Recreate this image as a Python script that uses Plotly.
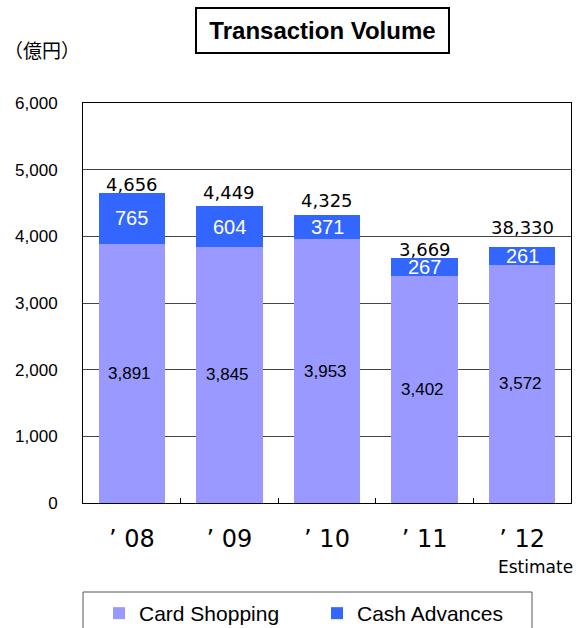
import plotly.graph_objects as go

years = ["'08", "'09", "'10", "'11", "'12"]
year_labels = ["’ 08", "’ 09", "’ 10", "’ 11", "’ 12"]
card_shopping = [3891, 3845, 3953, 3402, 3572]
cash_advances = [765, 604, 371, 267, 261]
total_labels = ["4,656", "4,449", "4,325", "3,669", "38,330"]
y_ticks = [0, 1000, 2000, 3000, 4000, 5000, 6000]

# label offsets (pixels) of the total labels above each bar, as drawn in the original
total_label_lift = [-4, 1, 2, -4, 7]

CARD = "#9999FF"
CASH = "#3366FF"
JP = "Noto Sans CJK JP"
LAT = "Liberation Sans"
DJ = "DejaVu Sans"

fig = go.Figure()
fig.add_trace(go.Bar(x=years, y=card_shopping, name="Card Shopping",
                     marker=dict(color=CARD, line=dict(width=0))))
fig.add_trace(go.Bar(x=years, y=cash_advances, name="Cash Advances",
                     marker=dict(color=CASH, line=dict(width=0))))

ann = []
for i, yr in enumerate(years):
    c = card_shopping[i]
    a = cash_advances[i]
    ann.append(dict(x=yr, y=c / 2, xref="x", yref="y", text=f"{c:,}",
                    showarrow=False, xshift=-2,
                    font=dict(family=LAT, size=17, color="black")))
    ann.append(dict(x=yr, y=c + a / 2, xref="x", yref="y", text=f"{a:,}",
                    showarrow=False,
                    font=dict(family=LAT, size=20, color="white")))
    ann.append(dict(x=yr, y=c + a, xref="x", yref="y", text=total_labels[i],
                    showarrow=False, yanchor="bottom", yshift=total_label_lift[i],
                    font=dict(family=DJ, size=18, color="black")))

ann.append(dict(x=0.4898, y=1.18125, xref="paper", yref="paper",
                xanchor="center", yanchor="middle",
                text="<b>Transaction Volume</b>", width=235, height=27,
                showarrow=False, font=dict(family=LAT, size=24, color="black"),
                bordercolor="black", borderwidth=2, borderpad=8, bgcolor="white"))
ann.append(dict(x=-0.083, y=1.1325, xref="paper", yref="paper", text="（億円）",
                xanchor="center", yanchor="middle",
                showarrow=False, font=dict(family=JP, size=19, color="black")))
ann.append(dict(x=1.0082, y=-0.16, xref="paper", yref="paper", text="Estimate",
                xanchor="right", yanchor="middle",
                showarrow=False, font=dict(family=DJ, size=17, color="black")))

fig.update_layout(
    barmode="stack",
    bargap=0.32,
    width=576, height=628,
    margin=dict(l=83, r=5, t=103, b=125, autoexpand=False),
    paper_bgcolor="white", plot_bgcolor="white",
    annotations=ann,
    shapes=[dict(type="rect", xref="paper", yref="paper", x0=0, x1=0.9201,
                 y0=-0.2225, y1=-0.345, line=dict(color="#555555", width=1),
                 fillcolor="rgba(0,0,0,0)", layer="above")],
    showlegend=True,
    legend=dict(orientation="h", x=0.0328, y=-0.225, xanchor="left", yanchor="top",
                borderwidth=0, bgcolor="rgba(0,0,0,0)", entrywidth=173,
                font=dict(family=LAT, size=21, color="black"),
                traceorder="normal", itemclick=False, itemdoubleclick=False),
    xaxis=dict(type="category", tickvals=years, ticktext=year_labels,
               tickfont=dict(family=DJ, size=24, color="black"),
               showline=True, linecolor="black", linewidth=1, mirror=True,
               ticks="inside", tickson="boundaries", ticklen=5, tickcolor="black",
               ticklabelstandoff=14, showgrid=False),
    yaxis=dict(range=[0, 6000], tickvals=y_ticks, tickformat=",d",
               tickfont=dict(family=LAT, size=17, color="black"),
               showline=True, linecolor="black", linewidth=1, mirror=True,
               showgrid=True, gridcolor="#444444", gridwidth=1,
               ticks="", ticklabelstandoff=21, zeroline=False),
)

fig.write_html("out.html", config={"displayModeBar": False},
               post_script="document.body.style.margin='0';document.body.style.overflow='hidden';")
